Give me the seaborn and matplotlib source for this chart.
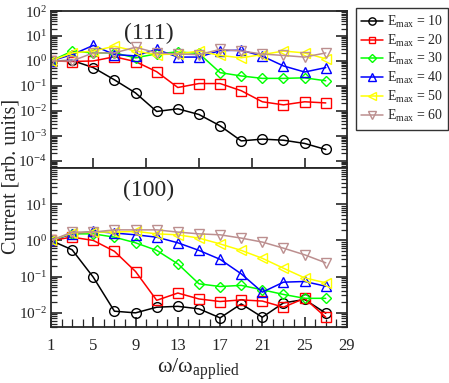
import numpy as np
import pandas as pd
import matplotlib
matplotlib.use("Agg")
import matplotlib.pyplot as plt
import matplotlib.ticker as mticker
import seaborn as sns

sns.set_style("ticks")
plt.rcParams['font.family'] = ['Liberation Serif', 'DejaVu Serif']
plt.rcParams['mathtext.fontset'] = 'custom'
plt.rcParams['mathtext.rm'] = 'Liberation Serif'
plt.rcParams['mathtext.it'] = 'Liberation Serif:italic'

omega = [1, 3, 5, 7, 9, 11, 13, 15, 17, 19, 21, 23, 25, 27]
emax_labels = [10, 20, 30, 40, 50, 60]

# (111) panel
top_e10 = [1.0, 1.05, 0.54, 0.175, 0.052, 0.0094, 0.012, 0.0071, 0.0025, 0.00062, 0.00073, 0.00066, 0.00049, 0.00028]
top_e20 = [1.0, 0.95, 1.0, 1.47, 0.94, 0.37, 0.086, 0.124, 0.124, 0.064, 0.023, 0.0173, 0.023, 0.0207]
top_e30 = [1.0, 2.47, 2.1, 2.1, 1.34, 1.93, 2.3, 2.0, 0.34, 0.25, 0.2, 0.2, 0.21, 0.16]
top_e40 = [1.0, 1.8, 4.2, 1.8, 1.6, 2.9, 1.43, 1.43, 2.6, 2.7, 1.56, 0.63, 0.36, 0.54]
top_e50 = [1.0, 2.1, 2.5, 3.9, 2.5, 1.8, 1.9, 2.5, 1.66, 1.34, 1.8, 2.5, 2.1, 1.22]
top_e60 = [1.0, 1.0, 2.1, 2.1, 3.55, 2.1, 1.9, 1.8, 2.9, 2.5, 1.9, 1.66, 1.43, 2.1]

# (100) panel
bot_e10 = [1.0, 0.55, 0.096, 0.011, 0.0099, 0.0142, 0.015, 0.0128, 0.0072, 0.0175, 0.0075, 0.0187, 0.0232, 0.0097]
bot_e20 = [1.0, 1.23, 1.0, 0.5, 0.138, 0.022, 0.035, 0.024, 0.0204, 0.0226, 0.021, 0.0142, 0.025, 0.0075]
bot_e30 = [1.0, 1.52, 1.52, 1.23, 0.86, 0.53, 0.225, 0.063, 0.053, 0.057, 0.043, 0.032, 0.025, 0.025]
bot_e40 = [1.0, 1.52, 1.78, 1.6, 1.43, 1.23, 0.86, 0.53, 0.30, 0.119, 0.037, 0.07, 0.073, 0.054]
bot_e50 = [1.0, 1.6, 1.7, 1.7, 1.78, 1.52, 1.43, 1.16, 0.8, 0.53, 0.32, 0.17, 0.092, 0.067]
bot_e60 = [1.0, 1.7, 1.7, 1.96, 1.96, 1.96, 1.7, 1.52, 1.43, 1.16, 0.9, 0.61, 0.4, 0.24]

top_series = [top_e10, top_e20, top_e30, top_e40, top_e50, top_e60]
bot_series = [bot_e10, bot_e20, bot_e30, bot_e40, bot_e50, bot_e60]

colors = ['#000000', '#ff0000', '#00ff00', '#0000ff', '#ffff00', '#bc8f8f']
markers = ['o', 's', 'D', '^', '<', 'v']
msizes = [7, 6.5, 5, 7, 7, 7]

fig = plt.figure(figsize=(4.49, 3.83), dpi=100)
ax1 = fig.add_axes([0.1136, 0.561, 0.659, 0.41])
ax2 = fig.add_axes([0.1136, 0.146, 0.659, 0.415])

for ax, series in [(ax1, top_series), (ax2, bot_series)]:
    for i, vals in enumerate(series):
        df = pd.DataFrame({'omega': omega, 'current': vals})
        sns.lineplot(data=df, x='omega', y='current', ax=ax, color=colors[i],
                     marker=markers[i], markersize=msizes[i], markerfacecolor='none',
                     markeredgecolor=colors[i], markeredgewidth=1.0, linewidth=1.1,
                     label=r'E$_{\rm max}$ = %d' % emax_labels[i] if ax is ax1 else None,
                     legend=False)
    ax.set_yscale('log')
    ax.set_xlim(1, 29)
    ax.set_xlabel('')
    ax.set_ylabel('')
    for sp in ax.spines.values():
        sp.set_visible(True)
        sp.set_linewidth(1.3)

ax1.set_ylim(5e-5, 100)
ax1.set_yticks([1e-4, 1e-3, 1e-2, 1e-1, 1, 10, 100])
ax1.yaxis.set_minor_locator(mticker.LogLocator(base=10, subs=np.arange(2, 10), numticks=20))
ax1.yaxis.set_minor_formatter(mticker.NullFormatter())
ax1.set_xticks([5, 10, 15, 20, 25])
ax1.set_xticklabels([])
ax1.tick_params(axis='x', which='major', direction='in', length=7, width=1.2, bottom=True, top=False)
ax1.tick_params(axis='y', which='major', direction='in', length=8, width=1.2, left=True, right=True, labelsize=11, pad=3)
ax1.tick_params(axis='y', which='minor', direction='in', length=4, width=0.9, left=True, right=True)
ax1.text(0.33, 0.855, '(111)', transform=ax1.transAxes, ha='center', va='center', fontsize=17)

ax2.set_ylim(0.004, 100)
ax2.set_yticks([1e-2, 1e-1, 1, 10])
ax2.yaxis.set_minor_locator(mticker.LogLocator(base=10, subs=np.arange(2, 10), numticks=20))
ax2.yaxis.set_minor_formatter(mticker.NullFormatter())
ax2.set_xticks([1, 5, 9, 13, 17, 21, 25, 29])
ax2.xaxis.set_minor_locator(mticker.MultipleLocator(1))
ax2.tick_params(axis='x', which='major', direction='in', length=7, width=1.2, bottom=True, top=False, labelsize=12, pad=8)
ax2.tick_params(axis='x', which='minor', direction='in', length=6, width=0.9, bottom=True, top=False)
ax2.tick_params(axis='y', which='major', direction='in', length=8, width=1.2, left=True, right=True, labelsize=11, pad=3)
ax2.tick_params(axis='y', which='minor', direction='in', length=4, width=0.9, left=True, right=True)
ax2.text(0.33, 0.86, '(100)', transform=ax2.transAxes, ha='center', va='center', fontsize=17)
ax2.set_xlabel(r'ω/ω$_{\rm applied}$', fontsize=16, labelpad=2)

fig.text(0.024, 0.54, 'Current [arb. units]', rotation=90, ha='center', va='center', fontsize=14.5)

handles, labels = ax1.get_legend_handles_labels()
leg = fig.legend(handles, labels, loc='upper left', bbox_to_anchor=(0.792, 0.979),
                 frameon=True, fancybox=False, edgecolor='black', fontsize=10,
                 handlelength=1.6, handletextpad=0.25, borderpad=0.4, labelspacing=0.2,
                 borderaxespad=0, markerscale=0.75)
leg.get_frame().set_linewidth(1.0)

fig.savefig('out.png', dpi=100)
